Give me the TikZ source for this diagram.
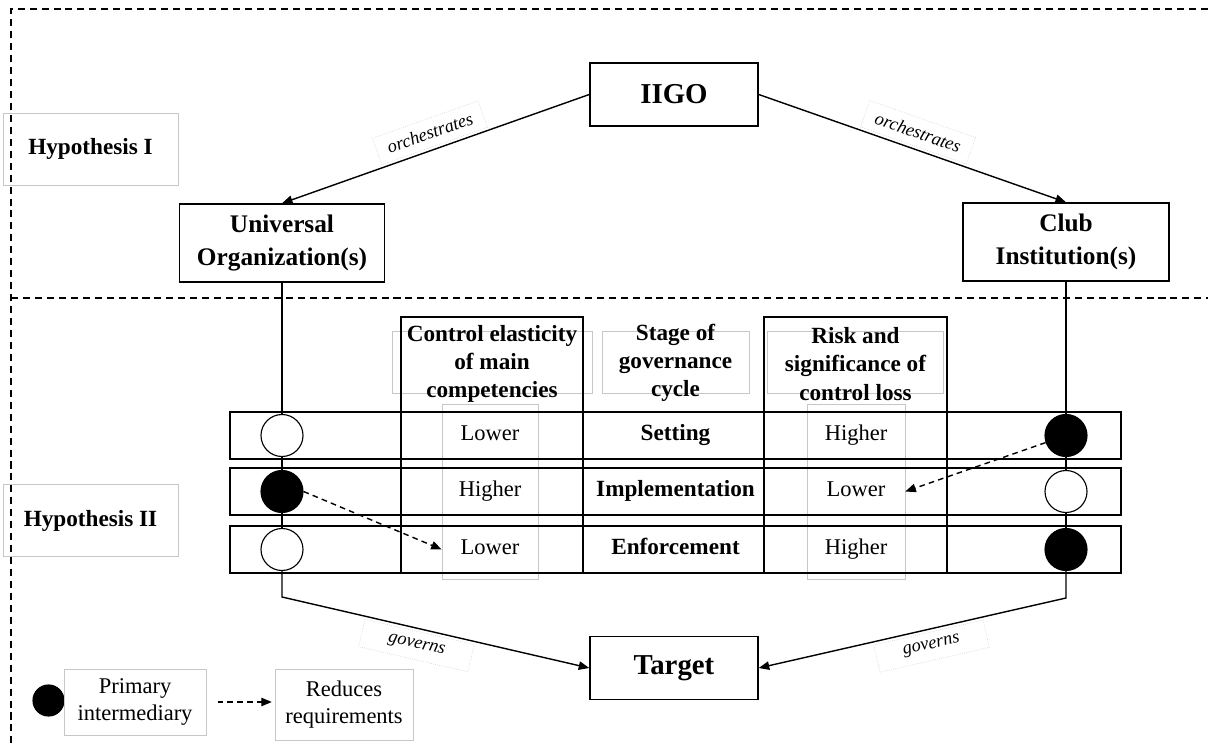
\documentclass[tikz,border=0pt]{standalone}
\usepackage{fontspec}
\setmainfont{Liberation Serif}
\usetikzlibrary{positioning,arrows.meta}

\begin{document}
\begin{tikzpicture}[x=0.025cm,y=-0.025cm,>={Triangle[length=7.5pt,width=6pt]},
  actor/.style={draw,line width=1pt,fill=white,align=center,font=\fontsize{18}{23.5}\selectfont\bfseries},
  faint/.style={draw=black!22,line width=0.5pt},
  verblabel/.style={draw=black!22,densely dotted,line width=0.4pt,inner sep=1pt,minimum width=2.8cm,minimum height=0.7cm,font=\fontsize{13}{15}\selectfont\itshape},
  link/.style={line width=1pt},
  reduces/.style={->,line width=1pt,dash pattern=on 4pt off 3pt},
  opencirc/.style={circle,draw,line width=0.8pt,fill=white,minimum size=1.05cm,inner sep=0pt},
  fullcirc/.style={circle,draw,line width=0.8pt,fill=black,minimum size=1.05cm,inner sep=0pt},
  head/.style={align=center,inner sep=0pt,font=\fontsize{16.5}{20}\selectfont\bfseries},
  cell/.style={inner sep=0pt,text height=11pt,text depth=3.5pt,font=\fontsize{16}{19}\selectfont}]
\useasboundingbox (0,0) rectangle (1208,747);

% zones
\draw[line width=0.75pt,dash pattern=on 5pt off 3.5pt] (1208,9) -- (11,9) -- (11,747);
\draw[line width=0.75pt,dash pattern=on 5pt off 3.5pt] (11,298) -- (1208,298);
\node[faint,minimum width=4.375cm,minimum height=1.8cm,font=\fontsize{16.5}{20}\selectfont\bfseries] (hyp1) at (90.5,149) {Hypothesis I};
\node[faint,minimum width=4.375cm,minimum height=1.8cm,font=\fontsize{16.5}{20}\selectfont\bfseries] (hyp2) at (90.5,520.5) {Hypothesis II};

% actors
\node[actor,minimum width=4.2cm,minimum height=1.575cm,font=\fontsize{20.5}{24}\selectfont\bfseries] (iigo) at (674,94.5) {IIGO};
\node[actor,minimum width=5.125cm,minimum height=1.95cm] (uo) at (282,243) {Universal\\Organization(s)};
\node[actor,minimum width=5.15cm,minimum height=1.95cm] (ci) at (1066,242) {Club\\Institution(s)};
\node[actor,minimum width=4.2cm,minimum height=1.575cm,font=\fontsize{20.5}{24}\selectfont\bfseries] (target) at (674,668) {Target};

% table
\node[faint,minimum width=5cm,minimum height=1.55cm] (ctrlbg) at (492,362) {};
\node[faint,minimum width=3.675cm,minimum height=1.55cm] (stagebg) at (675.5,362) {};
\node[faint,minimum width=4.4cm,minimum height=1.55cm] (riskbg) at (855,362) {};
\node[faint,minimum width=2.4cm,minimum height=4.375cm] (ctrlvalbg) at (490,491.5) {};
\node[faint,minimum width=2.45cm,minimum height=4.375cm] (riskvalbg) at (856,491.5) {};
\foreach \y [count=\i] in {435.5,491.5,549.5}
  \node[draw,line width=1pt,minimum width=22.275cm,minimum height=1.175cm] (row\i) at (675.5,\y) {};
\node[draw,line width=1pt,minimum width=4.55cm,minimum height=6.4cm] (ctrlcol) at (492,445) {};
\node[draw,line width=1pt,minimum width=4.575cm,minimum height=6.4cm] (riskcol) at (855.5,445) {};
\node[head] (ctrlhead) at (492,364) {Control elasticity\\of main\\competencies};
\node[head] (stagehead) at (675.5,363) {Stage of\\governance\\cycle};
\node[head] (riskhead) at (855.5,364) {Risk and\\significance of\\control loss};
\foreach \y/\a/\b/\c [count=\i] in {435.5/Lower/Setting/Higher,491.5/Higher/Implementation/Lower,549.5/Lower/Enforcement/Higher}{
  \node[cell,minimum width=2.4cm] (cv\i) at (490,\y) {\a};
  \node[cell,font=\fontsize{16.5}{19}\selectfont\bfseries] (st\i) at (675.5,\y) {\b};
  \node[cell,minimum width=2.45cm] (rv\i) at (856,\y) {\c};
}

% intermediaries
\node[opencirc] (l1) at (282,435.5) {};
\node[fullcirc] (l2) at (282,491.5) {};
\node[opencirc] (l3) at (282,549.5) {};
\node[fullcirc] (r1) at (1066,435.5) {};
\node[opencirc] (r2) at (1066,491.5) {};
\node[fullcirc] (r3) at (1066,549.5) {};
\coordinate (lbend) at (282,597);
\coordinate (rbend) at (1066,598);

\draw[link,<-] (uo.north) -- (iigo.west) node[verblabel,midway,sloped,above=2pt] {orchestrates};
\draw[link,->] (iigo.east) -- (ci.north) node[verblabel,midway,sloped,above=2pt] {orchestrates};
\draw[link] (uo) -- (l1) (l1) -- (l2) (l2) -- (l3);
\draw[link] (ci) -- (r1) (r1) -- (r2) (r2) -- (r3);
\draw[link,->] (l3) -- (lbend) -- (target.west) node[verblabel,pos=0.45,sloped,below=2pt] {governs};
\draw[link,<-] (target.east) -- (rbend) node[verblabel,pos=0.55,sloped,below=2pt] {governs} -- (r3);
\draw[reduces] (l2.east) -- (cv3.west);
\draw[reduces] (r1) -- (rv2.east);

% legend
\node[fullcirc,minimum size=0.775cm] (legdot) at (48.5,700.5) {};
\node[faint,minimum width=3.55cm,minimum height=1.65cm,align=center,font=\fontsize{16}{19}\selectfont] (legprim) at (135,702) {Primary\\intermediary};
\node[faint,minimum width=3.45cm,minimum height=1.775cm,align=center,font=\fontsize{16}{19}\selectfont] (legred) at (344,704.5) {Reduces\\requirements};
\draw[reduces,shorten <=8pt,shorten >=2pt] (legprim.east) -- (legprim.east -| legred.west);
\end{tikzpicture}
\end{document}
